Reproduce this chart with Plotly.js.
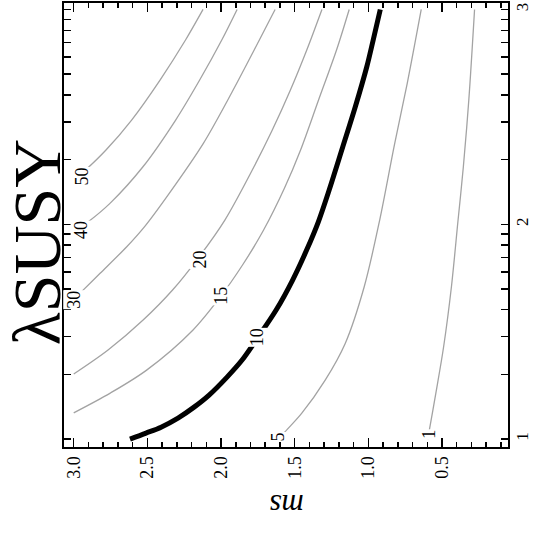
<!DOCTYPE html>
<html>
<head>
<meta charset="utf-8">
<script src="https://cdn.plot.ly/plotly-3.0.1.min.js"></script>
<style>
html,body{margin:0;padding:0;background:#fff;}
#chart{width:534px;height:534px;}
</style>
</head>
<body>
<div id="chart"></div>
<script>
// ---- data (m_s vs lambda_SUSY contour lines) ----
const levels = ['50', '40', '30', '20', '15', '10', '5', '1'];

const ms50  = [2.122, 2.241, 2.414, 2.607, 2.781, 2.920, 3.000];
const lam50 = [1000, 720.6, 469.3, 305.6, 221.6, 178.8, 160.6];

const ms40  = [1.891, 1.995, 2.145, 2.308, 2.530, 2.754, 2.901, 3.000];
const lam40 = [1000, 720.6, 469.3, 305.6, 185.2, 125.1, 102.7, 91.97];

const ms30  = [1.633, 1.775, 1.925, 2.120, 2.360, 2.516, 2.640, 2.821, 2.957, 3.000];
const lam30 = [1000, 647.4, 412.7, 238.1, 136.7, 98.1, 78.6, 59.1, 47.8, 44.8];

const ms20  = [1.315, 1.418, 1.529, 1.652, 1.788, 1.974, 2.155, 2.329, 2.529, 2.767, 3.000];
const lam20 = [1000, 647.4, 421.6, 274.5, 178.8, 104.6, 69.6, 49.4, 35.8, 25.96, 20.07];

const ms15  = [1.130, 1.216, 1.338, 1.460, 1.569, 1.711, 1.854, 2.006, 2.190, 2.505, 2.752, 3.000];
const lam15 = [1000, 647.4, 378.7, 221.6, 147.4, 93.97, 64.6, 45.8, 32.2, 20.94, 16.37, 13.25];

const ms10  = [0.919, 0.967, 1.011, 1.089, 1.174, 1.266, 1.340, 1.419, 1.514, 1.626,
               1.748, 1.857, 1.959, 2.081, 2.183, 2.292, 2.407, 2.509, 2.618];
const lam10 = [1000, 720.6, 539.5, 351.3, 228.8, 144.3, 102.4, 75.8, 55.0, 39.85,
               29.84, 23.32, 19.43, 16.02, 14.08, 12.52, 11.36, 10.66, 10.0];

const ms5   = [0.641, 0.736, 0.821, 0.923, 1.028, 1.157, 1.293, 1.453, 1.565, 1.605];
const lam5  = [1000, 453.1, 238.1, 104.6, 51.2, 27.88, 18.81, 13.16, 10.81, 10.0];

const ms1   = [0.279, 0.318, 0.355, 0.393, 0.436, 0.489, 0.542, 0.590, 0.597];
const lam1  = [1000, 378.7, 185.2, 101.3, 51.2, 26.89, 16.31, 10.62, 10.0];

// label anchor points (data coords) for each level
const labelMs  = [2.946, 2.950, 3.000, 2.142, 2.002, 1.757, 1.612, 0.593];
const labelLam = [166.4, 94.0, 44.4, 68.6, 46.3, 29.7, 10.2, 10.5];

// axis ticks
const msTickVals = [3.0, 2.5, 2.0, 1.5, 1.0, 0.5];
const msTickText = ['3.0', '2.5', '2.0', '1.5', '1.0', '0.5'];
const lamTickVals = [10, 100, 1000];
const lamTickText = ['1', '2', '3'];
const lamMinorVals = [20, 30, 40, 50, 60, 70, 80, 90, 200, 300, 400, 500, 600, 700, 800, 900];

// ---- drawing ----
const curvesX = [ms50, ms40, ms30, ms20, ms15, ms10, ms5, ms1];
const curvesY = [lam50, lam40, lam30, lam20, lam15, lam10, lam5, lam1];

const traces = curvesX.map((xs, i) => ({
  type: 'scatter',
  mode: 'lines',
  x: xs,
  y: curvesY[i],
  line: levels[i] === '10'
    ? {color: '#000000', width: 5, shape: 'spline', smoothing: 0.9}
    : {color: '#a3a3a3', width: 1.3, shape: 'spline', smoothing: 0.9},
  hoverinfo: 'skip',
  showlegend: false
}));

const serif = 'Liberation Serif, Times New Roman, serif';

const annotations = levels.map((t, i) => ({
  x: labelMs[i],
  y: Math.log10(labelLam[i]),
  xref: 'x', yref: 'y',
  text: t,
  showarrow: false,
  textangle: -90,
  font: {family: serif, size: 18, color: '#000'},
  bgcolor: '#ffffff',
  borderpad: 0,
  xanchor: 'center', yanchor: 'middle'
}));

annotations.push({
  xref: 'paper', yref: 'paper',
  x: -0.062, y: 0.462,
  text: 'λSUSY',
  showarrow: false,
  textangle: -90,
  font: {family: serif, size: 68, color: '#000'},
  xanchor: 'center', yanchor: 'middle'
});
annotations.push({
  xref: 'paper', yref: 'paper',
  x: 0.502, y: -0.133,
  text: '<i>ms</i>',
  showarrow: false,
  textangle: 180,
  font: {family: serif, size: 31, color: '#000'},
  xanchor: 'center', yanchor: 'middle'
});

const layout = {
  width: 534, height: 534,
  margin: {l: 64, r: 26, t: 3, b: 87},
  paper_bgcolor: '#ffffff',
  plot_bgcolor: '#ffffff',
  font: {family: serif, size: 18, color: '#000'},
  showlegend: false,
  xaxis: {
    range: [3.066, 0.052],
    tickmode: 'array',
    tickvals: msTickVals,
    ticktext: msTickText,
    tickangle: -90,
    ticks: 'inside',
    ticklen: 9,
    tickwidth: 1.5,
    tickcolor: '#000',
    minor: {tickmode: 'linear', tick0: 0, dtick: 0.1, ticks: 'inside', ticklen: 5, tickwidth: 1.5, tickcolor: '#000', showgrid: false},
    showline: true, linecolor: '#000', linewidth: 2,
    mirror: 'allticks',
    showgrid: false, zeroline: false,
    tickfont: {family: serif, size: 18, color: '#000'}
  },
  yaxis: {
    type: 'log',
    side: 'right',
    range: [0.963, 3.030],
    tickmode: 'array',
    tickvals: lamTickVals,
    ticktext: lamTickText,
    tickangle: -90,
    ticks: 'inside',
    ticklen: 7,
    tickwidth: 1.5,
    tickcolor: '#000',
    ticklabelstandoff: -2,
    minor: {tickmode: 'array', tickvals: lamMinorVals, ticks: 'inside', ticklen: 7, tickwidth: 1.5, tickcolor: '#000', showgrid: false},
    showline: true, linecolor: '#000', linewidth: 2,
    mirror: 'allticks',
    showgrid: false, zeroline: false,
    tickfont: {family: serif, size: 17, color: '#000'}
  },
  annotations: annotations
};

Plotly.newPlot('chart', traces, layout, {staticPlot: true, displayModeBar: false});
</script>
</body>
</html>
